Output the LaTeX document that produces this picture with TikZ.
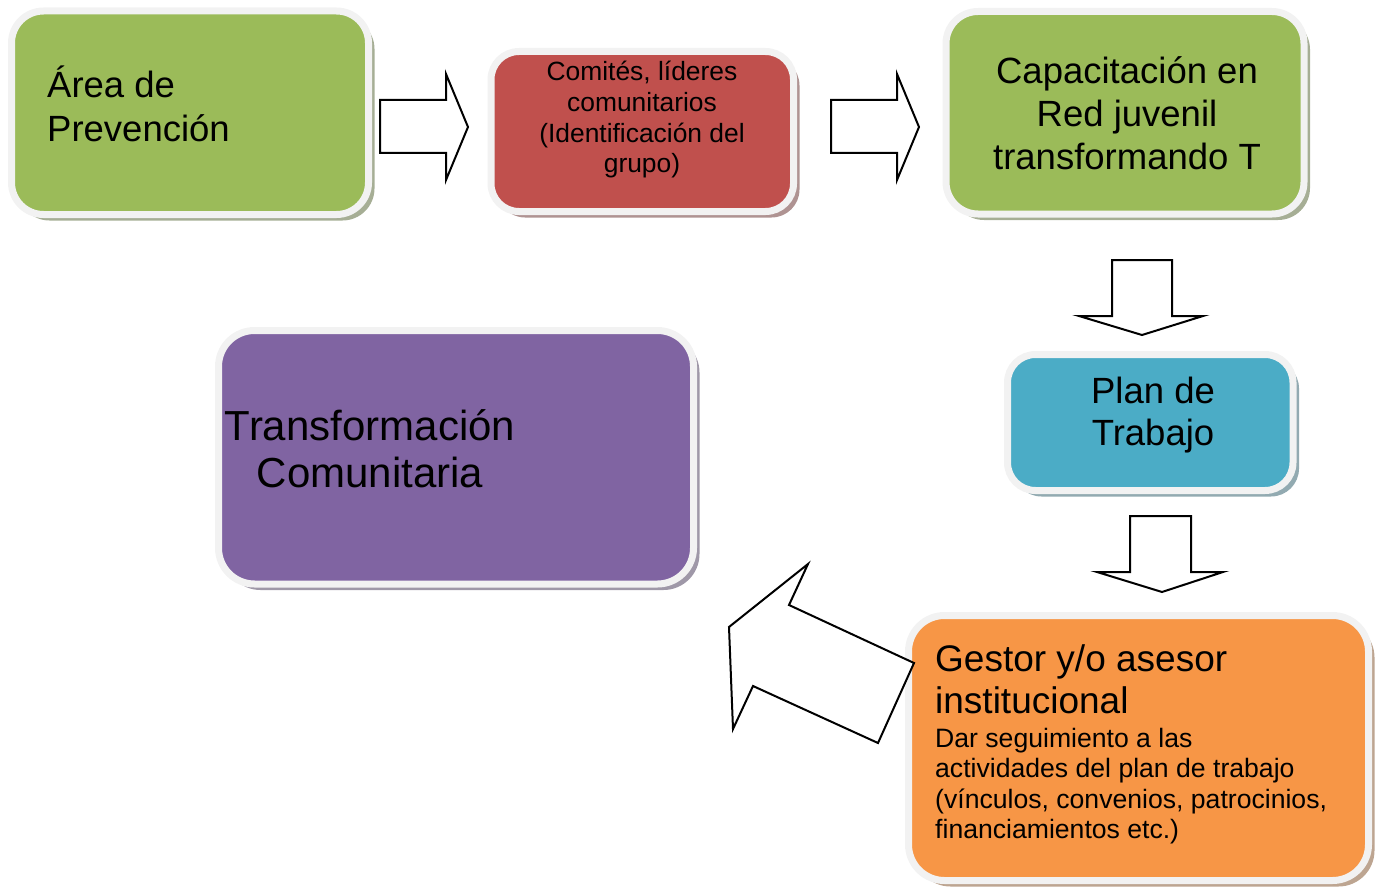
\documentclass[tikz,border=0pt]{standalone}
\usepackage{fontspec}
\setmainfont{Liberation Sans}
\usetikzlibrary{shadows}
\definecolor{cgreen}{HTML}{9BBB59}
\definecolor{cred}{HTML}{C0504D}
\definecolor{cblue}{HTML}{4BACC6}
\definecolor{cpurple}{HTML}{8064A2}
\definecolor{corange}{HTML}{F79646}
\definecolor{cborder}{HTML}{F2F2F2}
\begin{document}
\begin{tikzpicture}[x=1pt,y=-1pt,
  panel/.style={rectangle, rounded corners=32pt, draw=cborder, line width=7pt, fill=#1, inner sep=0pt,
    drop shadow={shadow xshift=6pt, shadow yshift=-6pt, fill=#1!50!black, opacity=0.5}},
  blockarrow/.style={draw=black, line width=2pt, fill=white, line join=miter},
  bigtext/.style={font=\fontsize{36.5}{44}\selectfont, inner sep=0pt},
  midtext/.style={font=\fontsize{26.4}{30.5}\selectfont, inner sep=0pt},
  hugetext/.style={font=\fontsize{42}{47}\selectfont, inner sep=0pt},
  titletext/.style={font=\fontsize{37}{42}\selectfont, inner sep=0pt},
  smalltext/.style={font=\fontsize{26.6}{30.5}\selectfont, inner sep=0pt}]
\useasboundingbox (0,0) rectangle (1382,888);

% boxes
\node[panel=cgreen, minimum width=357pt, minimum height=203.5pt] (prev) at (190,112.75) {};
\node[panel=cred, rounded corners=28pt, minimum width=302.5pt, minimum height=160pt] (comi) at (642.25,131.5) {};
\node[panel=cgreen, minimum width=358pt, minimum height=202.5pt] (capa) at (1125,112.75) {};
\node[panel=cblue, rounded corners=28pt, minimum width=285.5pt, minimum height=136pt] (plan) at (1150.25,422.5) {};
\node[panel=cpurple, rounded corners=36pt, minimum width=475pt, minimum height=253.5pt] (trans) at (456,457.25) {};
\node[panel=corange, rounded corners=36pt, minimum width=460pt, minimum height=265pt] (gest) at (1138.5,748) {};

% texts
\node[bigtext, anchor=base west] (prev1) at (47,98) {Área de};
\node[bigtext, anchor=base west] (prev2) at (47,142) {Prevención};

\node[midtext, anchor=base] (comi1) at (642,81) {Comités, líderes};
\node[midtext, anchor=base] (comi2) at (642,112) {comunitarios};
\node[midtext, anchor=base] (comi3) at (642,143) {(Identificación del};
\node[midtext, anchor=base] (comi4) at (642,173) {grupo)};

\node[bigtext, anchor=base] (capa1) at (1127,84) {Capacitación en};
\node[bigtext, anchor=base] (capa2) at (1127,127) {Red juvenil};
\node[bigtext, anchor=base] (capa3) at (1127,170) {transformando T};

\node[bigtext, anchor=base] (plan1) at (1153,403) {Plan de};
\node[bigtext, anchor=base] (plan2) at (1153,445) {Trabajo};

\node[hugetext, anchor=base] (trans1) at (370,440) {Transformación};
\node[hugetext, anchor=base] (trans2) at (370,487) {Comunitaria};

\node[titletext, anchor=base west] (gest1) at (935,671) {Gestor y/o asesor};
\node[titletext, anchor=base west] (gest2) at (935,713) {institucional};
\node[smalltext, anchor=base west] (gest3) at (935,747) {Dar seguimiento a las};
\node[smalltext, anchor=base west] (gest4) at (935,777.5) {actividades del plan de trabajo};
\node[smalltext, anchor=base west] (gest5) at (935,808) {(vínculos, convenios, patrocinios,};
\node[smalltext, anchor=base west] (gest6) at (935,838.5) {financiamientos etc.)};

% block arrows
\draw[blockarrow] (380,100) -- (446,100) -- (446,74) -- (468,127) -- (446,180) -- (446,153) -- (380,153) -- cycle;
\draw[blockarrow] (831,100) -- (897,100) -- (897,74) -- (919,127) -- (897,180) -- (897,153) -- (831,153) -- cycle;
\draw[blockarrow] (1112,260) -- (1172,260) -- (1172,316) -- (1203,316) -- (1142,335) -- (1079,316) -- (1112,316) -- cycle;
\draw[blockarrow] (1130,516) -- (1191,516) -- (1191,572) -- (1223,572) -- (1162,592) -- (1097,572) -- (1130,572) -- cycle;
\draw[blockarrow] (808,564) -- (729,627) -- (733,729) -- (753,686) -- (878,743) -- (914,663) -- (789,605) -- cycle;
\end{tikzpicture}
\end{document}
